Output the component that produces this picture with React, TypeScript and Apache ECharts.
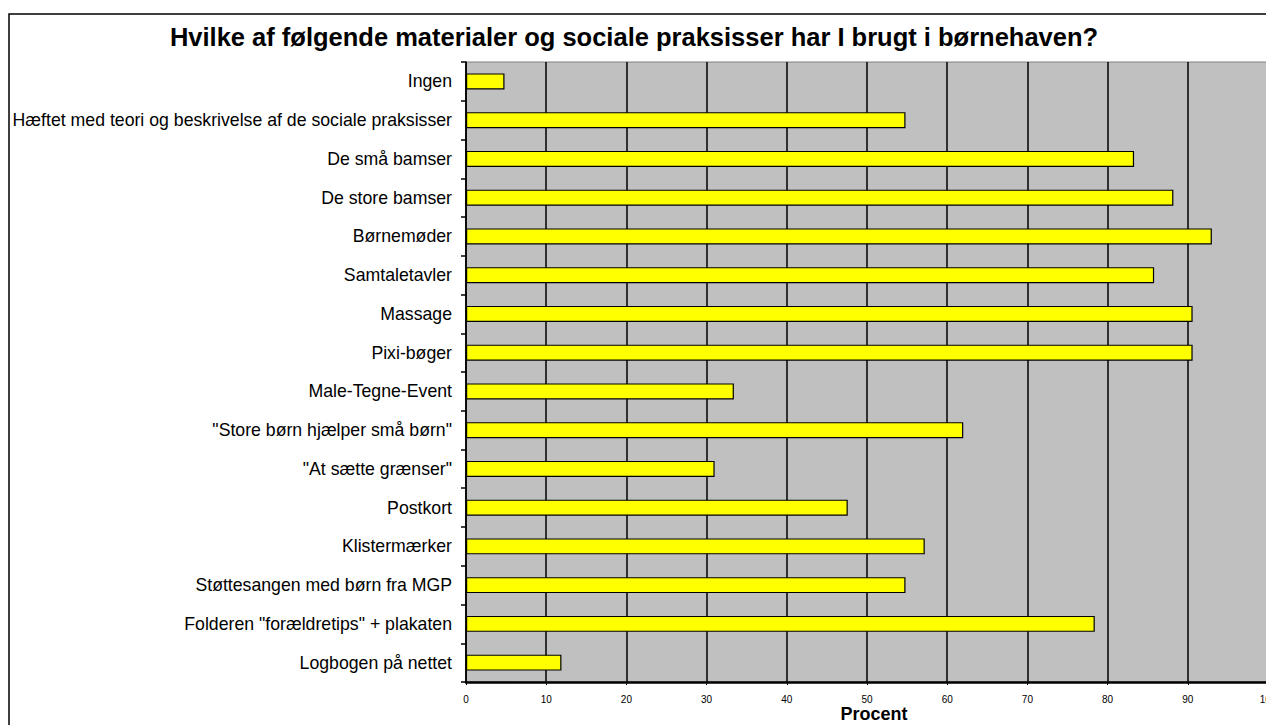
import React, { useEffect, useRef } from "react";
import * as echarts from "echarts";

const categories = [
  "Ingen",
  "Hæftet med teori og beskrivelse af de sociale praksisser",
  "De små bamser",
  "De store bamser",
  "Børnemøder",
  "Samtaletavler",
  "Massage",
  "Pixi-bøger",
  "Male-Tegne-Event",
  "\"Store børn hjælper små børn\"",
  "\"At sætte grænser\"",
  "Postkort",
  "Klistermærker",
  "Støttesangen med børn fra MGP",
  "Folderen \"forældretips\" + plakaten",
  "Logbogen på nettet",
];

const values = [4.8, 54.8, 83.3, 88.2, 93.0, 85.8, 90.6, 90.6, 33.4, 62.0, 31.0, 47.6, 57.2, 54.8, 78.4, 11.9];

const titleText = "Hvilke af følgende materialer og sociale praksisser har I brugt i børnehaven?";
const axisName = "Procent";

const FONT = "Arial, 'Liberation Sans', sans-serif";

export default function App() {
  const ref = useRef<HTMLDivElement>(null);
  useEffect(() => {
    if (!ref.current) return;
    const chart = echarts.init(ref.current, undefined, { renderer: "svg" });
    chart.setOption({
      animation: false,
      backgroundColor: "#ffffff",
      title: {
        text: titleText,
        left: 634,
        top: 24,
        textAlign: "center",
        padding: 0,
        textStyle: { fontFamily: FONT, fontSize: 25.5, fontWeight: "bold", color: "#000" },
      },
      graphic: [
        {
          type: "rect",
          shape: { x: 9, y: 14, width: 1400, height: 800 },
          style: { fill: "none", stroke: "#000", lineWidth: 1.5 },
          silent: true,
          z: 100,
        },
      ],
      grid: {
        left: 466,
        top: 62,
        right: 22,
        bottom: 43,
        outerBoundsMode: "none",
        containLabel: false,
        show: true,
        backgroundColor: "#C0C0C0",
        borderColor: "#808080",
        borderWidth: 1,
      },
      xAxis: {
        type: "value",
        min: 0,
        max: 100,
        interval: 10,
        name: axisName,
        nameLocation: "middle",
        nameGap: 32,
        nameMoveOverlap: false,
        nameTextStyle: {
          fontFamily: FONT,
          fontSize: 18,
          fontWeight: "bold",
          color: "#000",
          padding: [0, 0, 0, 14],
          lineHeight: 20,
          verticalAlign: "middle",
        },
        axisLine: { show: true, lineStyle: { color: "#000", width: 2.5 } },
        axisTick: { show: true, length: 3, lineStyle: { color: "#000", width: 1 } },
        axisLabel: { fontFamily: FONT, fontSize: 10, color: "#000", margin: 12 },
        splitLine: { show: true, lineStyle: { color: "#000", width: 1.5 } },
      },
      yAxis: {
        type: "category",
        inverse: true,
        data: categories,
        axisLine: { show: true, lineStyle: { color: "#000", width: 1.5 } },
        axisTick: { show: true, length: 5, lineStyle: { color: "#000", width: 1.5 } },
        axisLabel: { fontFamily: FONT, fontSize: 17.7, color: "#000", margin: 14 },
        splitLine: { show: false },
      },
      series: [
        {
          type: "bar",
          data: values,
          barWidth: 16,
          itemStyle: { color: "#FFFF00", borderColor: "#000", borderWidth: 1.2 },
        },
      ],
    });
    return () => chart.dispose();
  }, []);
  return (
    <div style={{ position: "fixed", left: 0, top: 0, width: 1266, height: 725, overflow: "hidden", background: "#fff" }}>
      <div ref={ref} style={{ width: 1290, height: 725 }} />
    </div>
  );
}
